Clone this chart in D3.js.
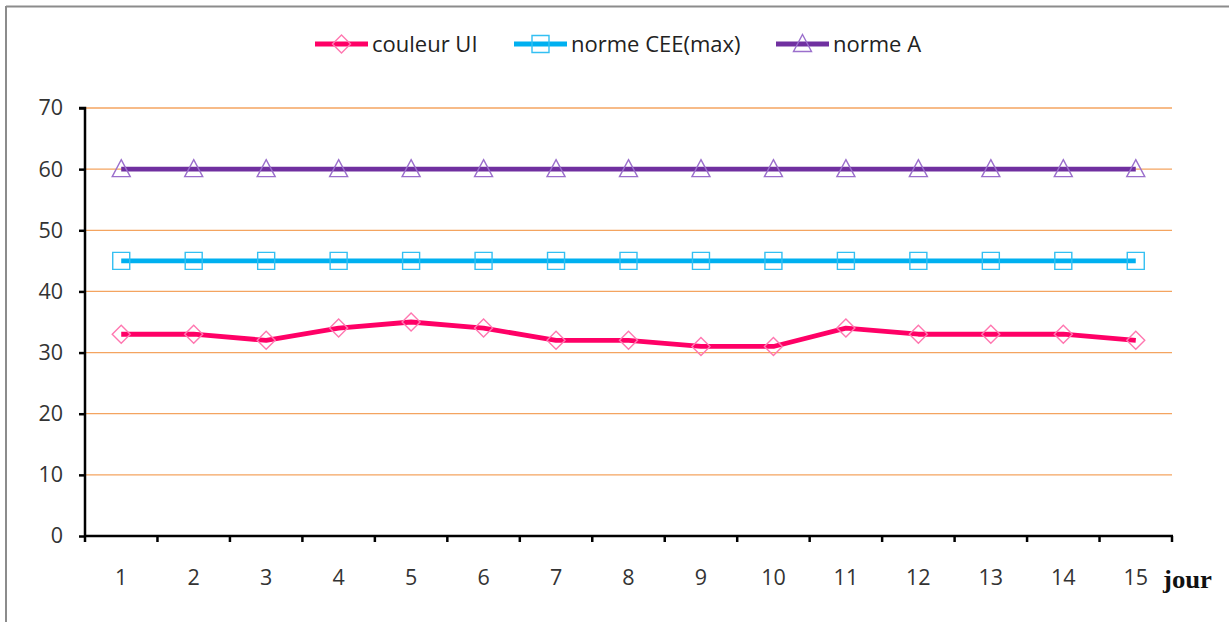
<!DOCTYPE html>
<html><head><meta charset="utf-8">
<script src="https://cdn.jsdelivr.net/npm/d3@7"></script>
<style>body{margin:0;background:#fff}svg{display:block}</style>
</head><body>
<svg id="c" width="1229" height="622"></svg>
<script>
const days = [1,2,3,4,5,6,7,8,9,10,11,12,13,14,15];
const couleurUI = [33,33,32,34,35,34,32,32,31,31,34,33,33,33,32];
const normeCEE = [45,45,45,45,45,45,45,45,45,45,45,45,45,45,45];
const normeA = [60,60,60,60,60,60,60,60,60,60,60,60,60,60,60];
const yTicks = [0,10,20,30,40,50,60,70];
const seriesNames = ["couleur UI","norme CEE(max)","norme A"];

const svg = d3.select("#c");
const font = "'Open Sans', 'Noto Sans', sans-serif";
// frame
svg.append("line").attr("x1",6).attr("x2",1229).attr("y1",6.5).attr("y2",6.5).attr("stroke","#8c8c8c").attr("stroke-width",2);
svg.append("line").attr("x1",6).attr("x2",6).attr("y1",6).attr("y2",622).attr("stroke","#8c8c8c").attr("stroke-width",2);

const L=85, R=1172, T=108, B=536;
const x = d3.scaleBand().domain(days).range([L,R]);
const y = d3.scaleLinear().domain([0,70]).range([B,T]);
const cx = d => x(d)+x.bandwidth()/2;

// grid
svg.append("g").selectAll("line").data(yTicks.filter(v=>v>0)).join("line")
  .attr("x1",L).attr("x2",R).attr("y1",d=>y(d)).attr("y2",d=>y(d))
  .attr("stroke","#F4A460").attr("stroke-width",1.3);

// y axis
const ya = svg.append("g").attr("transform",`translate(${L},0)`)
  .call(d3.axisLeft(y).tickValues(yTicks).tickSize(6).tickPadding(16));
ya.select(".domain").attr("stroke","#000").attr("stroke-width",2.5).attr("d",`M-6,${T}H0V${B}`);
ya.selectAll(".tick line").attr("stroke","#000").attr("stroke-width",2.5);
ya.selectAll("text").attr("font-family",font).attr("font-size",21.5).attr("fill","#333");

// x axis
const xa = svg.append("g").attr("transform",`translate(0,${B})`);
xa.append("line").attr("x1",L-1).attr("x2",R+1).attr("y1",0).attr("y2",0).attr("stroke","#000").attr("stroke-width",2.5);
xa.selectAll("line.t").data(d3.range(16)).join("line").attr("class","t")
  .attr("x1",i=>L+i*x.bandwidth()).attr("x2",i=>L+i*x.bandwidth()).attr("y1",0).attr("y2",6)
  .attr("stroke","#000").attr("stroke-width",2.5);
xa.selectAll("text").data(days).join("text")
  .attr("x",d=>cx(d)).attr("y",49).attr("text-anchor","middle")
  .attr("font-family",font).attr("font-size",21.5).attr("fill","#333").text(d=>d);
svg.append("text").attr("x",1163).attr("y",588).attr("font-family","'Liberation Serif', serif")
  .attr("font-weight","bold").attr("font-size",26).attr("fill","#111")
  .attr("textLength",49).attr("lengthAdjust","spacingAndGlyphs").text("jour");

const series = [
  {name:seriesNames[0], data:couleurUI, line:"#FF0066", mk:"#FF77B0", shape:"diamond"},
  {name:seriesNames[1], data:normeCEE, line:"#00B0F0", mk:"#33BFF2", shape:"square"},
  {name:seriesNames[2], data:normeA, line:"#7030A0", mk:"#9B6FCC", shape:"triangle"}
];
function marker(g, shape, color){
  let p;
  if(shape==="diamond") p="M0,-9L9,0L0,9L-9,0Z";
  else if(shape==="square") p="M-8.5,-8.5H8.5V8.5H-8.5Z";
  else p="M0,-9.5L9,7.5H-9Z";
  g.append("path").attr("d",p).attr("fill","none").attr("stroke",color).attr("stroke-width",1.4);
}
const line = d3.line().x((d,i)=>cx(days[i])).y(d=>y(d));
series.forEach(s=>{
  svg.append("path").datum(s.data).attr("d",line).attr("fill","none")
    .attr("stroke",s.line).attr("stroke-width",4.8).attr("stroke-linejoin","round");
  s.data.forEach((v,i)=>{
    const g=svg.append("g").attr("transform",`translate(${cx(days[i])},${y(v)})`);
    marker(g,s.shape,s.mk);
  });
});

// legend
const legX=[315,514,776];
series.forEach((s,i)=>{
  const g=svg.append("g").attr("transform",`translate(${legX[i]},44)`);
  g.append("line").attr("x1",0).attr("x2",53).attr("stroke",s.line).attr("stroke-width",4.8);
  const m=g.append("g").attr("transform","translate(26.5,0)");
  marker(m,s.shape,s.mk);
  g.append("text").attr("x",57).attr("y",7.5).attr("font-family",font).attr("font-size",22)
    .attr("fill","#222").text(s.name);
});
</script>
</body></html>
